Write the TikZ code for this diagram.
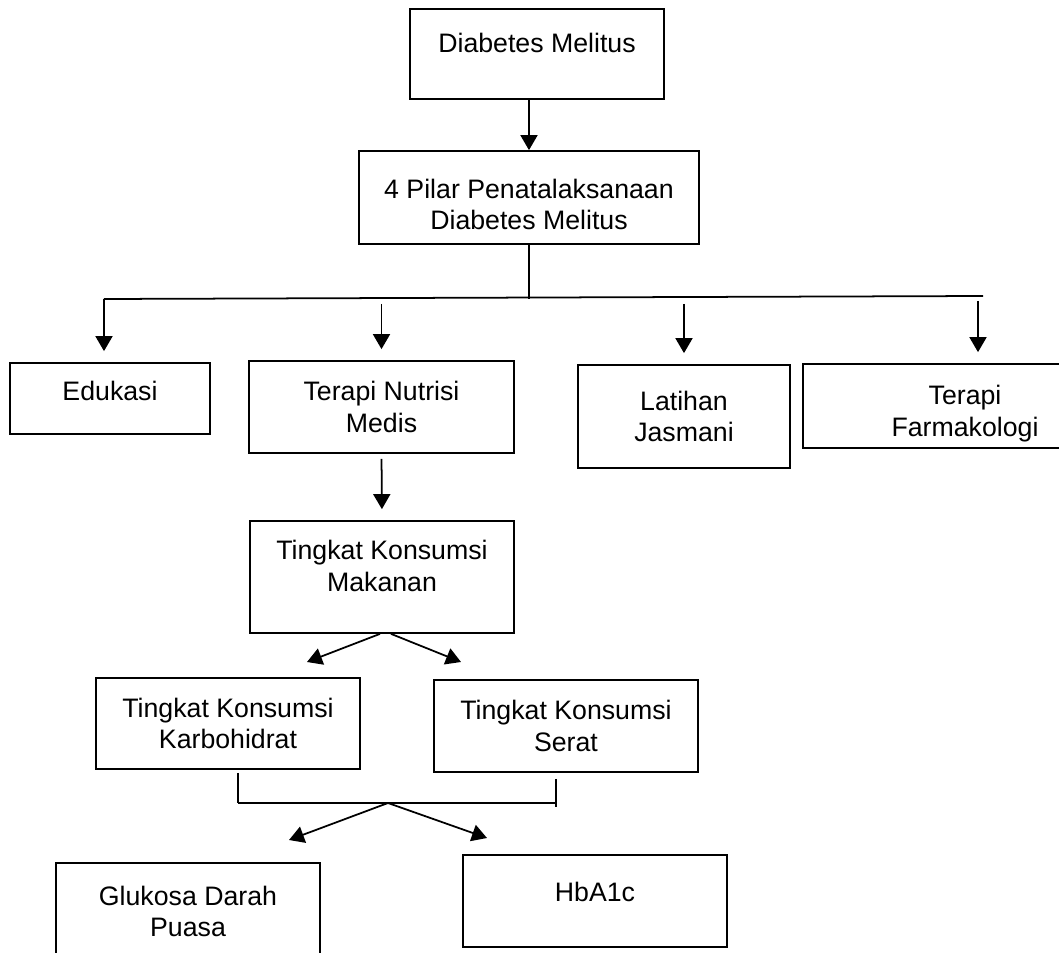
\documentclass[tikz,border=0pt]{standalone}
\usepackage{fontspec}
\setmainfont{Liberation Sans}
\usepackage{tikz}
\usetikzlibrary{arrows.meta,positioning,calc}

\begin{document}
\begin{tikzpicture}[
  x=0.02cm,y=-0.02cm,
  every node/.style={font=\fontsize{15.2}{18}\selectfont},
  box/.style={rectangle,draw=black,line width=1pt,align=center,
              inner sep=2pt,minimum width=5.28cm},
  link/.style={line width=1pt,draw=black},
  flow/.style={link,-{Triangle[length=3mm,width=3.4mm]}},
  gap/.style={shorten >=2.2mm}
]
\useasboundingbox (0,0) rectangle (1059,953);

%% ---- top ----
\node[box,minimum width=5.08cm,minimum height=1.8cm,text depth=12.4pt] (dm) at (537,54)
    {Diabetes Melitus};
\node[box,minimum width=6.8cm,minimum height=1.86cm,text height=37pt] (pilar) at (529,197.5)
    {4 Pilar Penatalaksanaan\\ Diabetes Melitus};

%% ---- the four pillars ----
\node[box,minimum width=4cm,minimum height=1.42cm,text depth=9pt] (edu) at (110,398.5)
    {Edukasi};
\node[box,minimum width=5.3cm,minimum height=1.84cm] (tnm) at (381.5,407)
    {Terapi Nutrisi\\ Medis};
\node[box,minimum width=4.24cm,minimum height=2.06cm] (latihan) at (684,416.5)
    {Latihan\\ Jasmani};
\node[box,minimum width=6.48cm,minimum height=1.68cm,text height=38pt] (farmako) at (965,406)
    {Terapi\\ Farmakologi};

%% ---- consumption ----
\node[box,minimum height=2.24cm,text depth=12.4pt] (makan) at (382,577)
    {Tingkat Konsumsi\\ Makanan};
\node[box,minimum height=1.82cm] (karbo) at (228,723.5)
    {Tingkat Konsumsi\\ Karbohidrat};
\node[box,minimum height=1.84cm] (serat) at (566,726)
    {Tingkat Konsumsi\\ Serat};

%% ---- outcomes ----
\node[box,minimum height=1.94cm] (gdp) at (188,911.5)
    {Glukosa Darah\\ Puasa};
\node[box,minimum height=1.84cm,text depth=10pt] (hba) at (595,901)
    {HbA1c};

%% ---- bus points ----
\coordinate (busL) at (104,299);
\coordinate (busR) at (983,296);
\coordinate (tipK) at (307,662);
\coordinate (tipS) at (461,662);
\coordinate (split) at (388,803);
\coordinate (tipG) at (289,840);
\coordinate (tipH) at (487,838);

%% ---- arrows ----
\draw[flow] (dm.south -| pilar.north) -- (pilar.north);
\draw[link] (pilar.south) -- (pilar.south |- busL);
\draw[link] (busL) -- (busR);
\draw[flow,gap] (busL) -- (busL |- edu.north);
\foreach \dst in {tnm,latihan}{
  \draw[flow,gap] ([yshift=-1mm]\dst.north |- busL) -- (\dst.north);
}
\draw[flow,gap] ([xshift=-1mm,yshift=-1mm]busR) -- ([xshift=-1mm]busR |- farmako.north);
\draw[flow,gap,shorten <=1mm] (tnm.south) -- (makan.north);
\draw[flow] ([xshift=-0.4mm]makan.south) -- (tipK);
\draw[flow] ([xshift=1.8mm]makan.south) -- (tipS);
\draw[link] ([xshift=2mm,yshift=-0.6mm]karbo.south) -- ([xshift=2mm]karbo.south |- split);
\draw[link] ([xshift=-2mm,yshift=-1.2mm]serat.south) -- ([xshift=-2mm,yshift=-0.8mm]serat.south |- split);
\draw[link] ([xshift=2mm]karbo.south |- split) -- ([xshift=-2mm]serat.south |- split);
\draw[flow] (split) -- (tipG);
\draw[flow] (split) -- (tipH);

\end{tikzpicture}
\end{document}
